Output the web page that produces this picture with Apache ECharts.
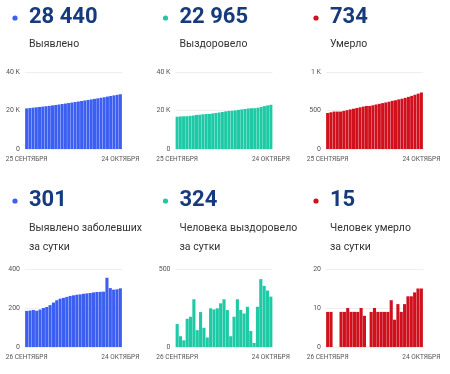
<!DOCTYPE html>
<html><head><meta charset="utf-8">
<script src="https://cdn.jsdelivr.net/npm/echarts@6/dist/echarts.min.js"></script>
<style>html,body{margin:0;padding:0;background:#fff}#c{width:450px;height:374px}</style>
</head><body><div id="c"></div>
<script>
const topDates = ['25 СЕНТЯБРЯ','26 СЕНТЯБРЯ','27 СЕНТЯБРЯ','28 СЕНТЯБРЯ','29 СЕНТЯБРЯ','30 СЕНТЯБРЯ',
  '1 ОКТЯБРЯ','2 ОКТЯБРЯ','3 ОКТЯБРЯ','4 ОКТЯБРЯ','5 ОКТЯБРЯ','6 ОКТЯБРЯ','7 ОКТЯБРЯ','8 ОКТЯБРЯ',
  '9 ОКТЯБРЯ','10 ОКТЯБРЯ','11 ОКТЯБРЯ','12 ОКТЯБРЯ','13 ОКТЯБРЯ','14 ОКТЯБРЯ','15 ОКТЯБРЯ','16 ОКТЯБРЯ',
  '17 ОКТЯБРЯ','18 ОКТЯБРЯ','19 ОКТЯБРЯ','20 ОКТЯБРЯ','21 ОКТЯБРЯ','22 ОКТЯБРЯ','23 ОКТЯБРЯ','24 ОКТЯБРЯ'];
const bottomDates = ['26 СЕНТЯБРЯ','27 СЕНТЯБРЯ','28 СЕНТЯБРЯ','29 СЕНТЯБРЯ','30 СЕНТЯБРЯ',
  '1 ОКТЯБРЯ','2 ОКТЯБРЯ','3 ОКТЯБРЯ','4 ОКТЯБРЯ','5 ОКТЯБРЯ','6 ОКТЯБРЯ','7 ОКТЯБРЯ','8 ОКТЯБРЯ',
  '9 ОКТЯБРЯ','10 ОКТЯБРЯ','11 ОКТЯБРЯ','12 ОКТЯБРЯ','13 ОКТЯБРЯ','14 ОКТЯБРЯ','15 ОКТЯБРЯ','16 ОКТЯБРЯ',
  '17 ОКТЯБРЯ','18 ОКТЯБРЯ','19 ОКТЯБРЯ','20 ОКТЯБРЯ','21 ОКТЯБРЯ','22 ОКТЯБРЯ','23 ОКТЯБРЯ','24 ОКТЯБРЯ'];

const casesTotal = [21088,21273,21460,21650,21836,22028,22228,22433,22648,22876,23116,23364,23616,23873,
  24135,24400,24668,24938,25211,25486,25763,26043,26325,26608,26892,27247,27549,27843,28139,28440];
const recoveredTotal = [16771,16918,16987,17030,17211,17405,17711,17819,18043,18166,18227,18475,18716,18964,
  19244,19550,19787,19856,20050,20356,20593,20808,21066,21169,21195,21453,21888,22280,22642,22965];
const deathsTotal = [468,477,486,486,486,495,504,514,523,532,541,551,559,559,568,578,587,596,605,614,
  626,633,644,653,664,677,690,704,719,734];
const casesDaily = [185,187,190,186,192,200,205,215,228,240,248,252,257,262,265,268,270,273,275,277,
  280,282,283,284,355,302,294,296,301];
const recoveredDaily = [147,69,43,181,194,306,108,224,123,61,248,241,248,280,306,237,69,194,306,237,
  215,258,103,26,258,435,392,362,323];
const deathsDaily = [9,9,0,0,9,9,10,9,9,9,10,8,0,9,10,9,9,9,9,12,7,11,9,11,13,13,14,15,15];

const headlines = ['28 440','22 965','734','301','324','15'];
const captions = [['Выявлено'],['Выздоровело'],['Умерло'],
  ['Выявлено заболевших','за сутки'],['Человека выздоровело','за сутки'],['Человек умерло','за сутки']];
const yMax = [40000,40000,1000,400,500,20];
const yInterval = [20000,20000,500,200,500,10];

const BLUE='#3c5ff2', TEAL='#1ec9a5', RED='#d0111d';
const colors=[BLUE,TEAL,RED,BLUE,TEAL,RED];
const datasets=[casesTotal,recoveredTotal,deathsTotal,casesDaily,recoveredDaily,deathsDaily];

const grids=[], xAxes=[], yAxes=[], series=[], graphic=[];
for(let i=0;i<6;i++){
  const col=i%3, row=Math.floor(i/3);
  const ox=col*150.5;
  const cats=row===0?topDates:bottomDates;
  grids.push({left:25+ox, top:row===0?72:269, width:97, height:row===0?77:78});
  xAxes.push({type:'category', gridIndex:i, data:cats, boundaryGap:true,
    axisLine:{show:false}, axisTick:{show:false},
    axisLabel:{interval:(idx)=>idx===0||idx===cats.length-1, fontSize:6.5, color:'#555',
      fontFamily:'Roboto', margin:7, hideOverlap:false}});
  yAxes.push({type:'value', gridIndex:i, min:0, max:yMax[i], interval:yInterval[i],
    axisLine:{show:false}, axisTick:{show:false},
    splitLine:{lineStyle:{color:'#eeeeee', width:1}},
    axisLabel:{fontSize:7, color:'#555', fontFamily:'Roboto', margin:5,
      formatter:(v)=> v>=1000 ? (v/1000)+' K' : String(v)}});
  series.push({type:'bar', xAxisIndex:i, yAxisIndex:i, data:datasets[i], barCategoryGap:'7%',
    itemStyle:{color:colors[i]}, silent:true});
  const hy=row===0?18:201;
  graphic.push({type:'circle', shape:{cx:15+ox, cy:hy, r:2.6}, style:{fill:colors[i]}});
  graphic.push({type:'text', left:29+ox, top:hy-12, style:{text:headlines[i], fill:'#163a7c',
    font:'bold 22px Roboto'}});
  captions[i].forEach((t,k)=>{
    graphic.push({type:'text', left:29+ox, top:(row===0?39:223)+k*19, style:{text:t, fill:'#333',
      font:'10.5px Roboto'}});
  });
}
const chart=echarts.init(document.getElementById('c'),null,{renderer:'canvas'});
chart.setOption({animation:false, grid:grids, xAxis:xAxes, yAxis:yAxes, series:series, graphic:graphic});
</script></body></html>
